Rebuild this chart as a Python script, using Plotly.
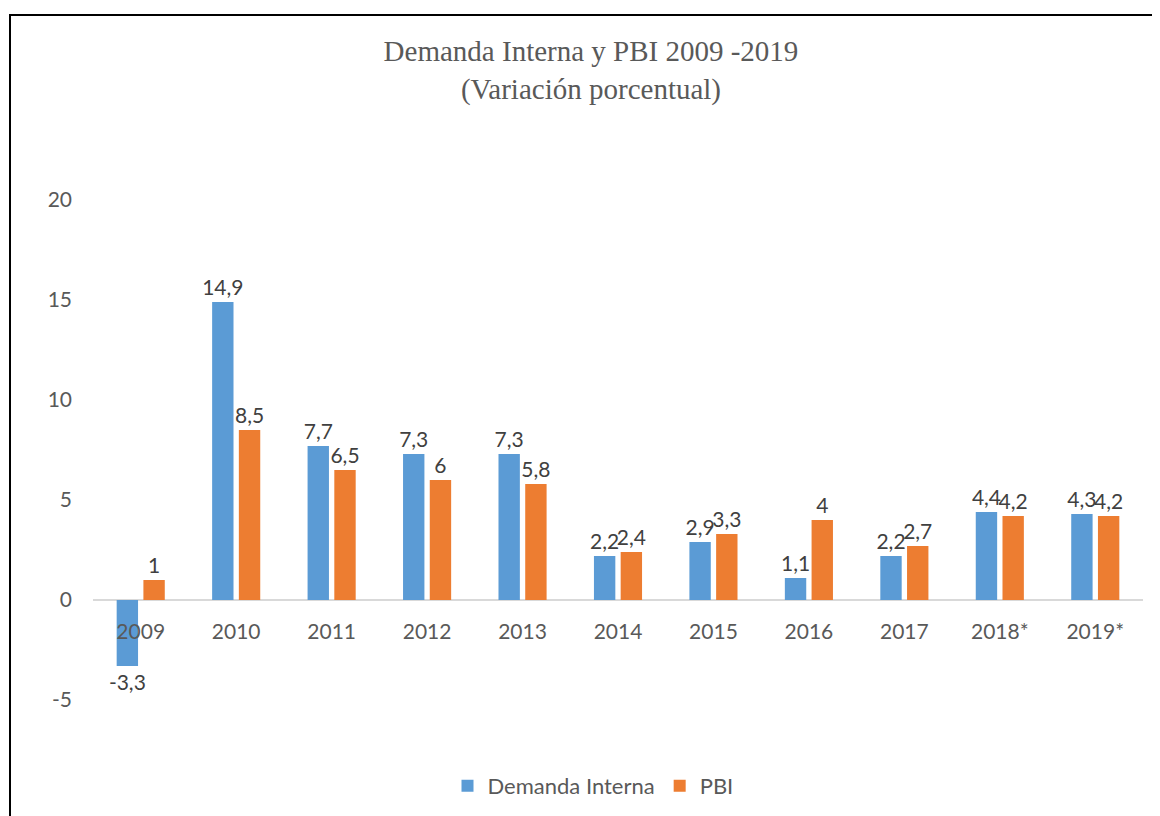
import plotly.graph_objects as go

years = ["2009", "2010", "2011", "2012", "2013", "2014", "2015", "2016", "2017", "2018*", "2019*"]
demanda_interna = [-3.3, 14.9, 7.7, 7.3, 7.3, 2.2, 2.9, 1.1, 2.2, 4.4, 4.3]
pbi = [1.0, 8.5, 6.5, 6.0, 5.8, 2.4, 3.3, 4.0, 2.7, 4.2, 4.2]
y_ticks = [-5, 0, 5, 10, 15, 20]
y_tick_text = ["-5", "0", "5", "10", "15", "20"]
y_range = [-5, 20]


def fmt(v):
    return ("%g" % v).replace(".", ",")


# page body has an 8px margin, so the figure is 8px smaller and offset
OFF = 8
W, H = 1160 - OFF, 816 - OFF
L, T = 93 - OFF, 200 - OFF
R = W - (1143 - OFF)
B = H - (700 - OFF)
pw, ph = W - L - R, H - T - B

label_font = dict(family="Lato, Open Sans, sans-serif", size=21, color="#404040")

fig = go.Figure()
fig.add_trace(go.Bar(
    x=years, y=demanda_interna, name="Demanda Interna",
    marker=dict(color="#5B9BD5", line=dict(width=0)),
    text=[fmt(v) for v in demanda_interna], textposition="outside",
    textfont=label_font, cliponaxis=False,
))
fig.add_trace(go.Bar(
    x=years, y=pbi, name="PBI",
    marker=dict(color="#ED7D31", line=dict(width=0)),
    text=[fmt(v) for v in pbi], textposition="outside",
    textfont=label_font, cliponaxis=False,
))

fig.update_layout(
    width=W, height=H,
    margin=dict(l=L, r=R, t=T, b=B, autoexpand=False),
    paper_bgcolor="white", plot_bgcolor="white",
    barmode="group", bargap=0.44, bargroupgap=0.2,
    uniformtext=dict(minsize=21, mode="show"),
    font=dict(family="Lato, Open Sans, sans-serif", color="#595959"),
    title=dict(
        text="Demanda Interna y PBI 2009 -2019<br>(Variación porcentual)",
        x=(591 - OFF) / W, xref="container", xanchor="center",
        y=1 - (61 - OFF) / H, yref="container", yanchor="middle",
        font=dict(family="Liberation Serif, Times New Roman, serif", size=29, color="#595959"),
    ),
    xaxis=dict(
        type="category", showgrid=False, showline=False, ticks="",
        tickfont=dict(size=21, color="#595959"),
        anchor="free", position=(0 - y_range[0]) / (y_range[1] - y_range[0]),
        ticklabelstandoff=17,
    ),
    yaxis=dict(
        range=y_range, tickvals=y_ticks, ticktext=y_tick_text,
        showgrid=False, showline=False,
        zeroline=True, zerolinecolor="#D9D9D9", zerolinewidth=2,
        tickfont=dict(size=21, color="#595959"), ticklabelstandoff=20,
    ),
    legend=dict(
        orientation="h", x=(593 - OFF) / W, xref="container", xanchor="center",
        y=(H - (786 - OFF)) / H, yref="container", yanchor="middle",
        font=dict(size=22, color="#595959"), itemwidth=30,
        traceorder="normal",
    ),
    showlegend=True,
)

# chart frame
fig.add_shape(
    type="rect", xref="paper", yref="paper",
    x0=(10 - OFF - L) / pw, x1=(W + 20 - L) / pw,
    y0=-(H + 20 - T - ph) / ph, y1=1 + (T - (15 - OFF)) / ph,
    line=dict(color="black", width=2), fillcolor="rgba(0,0,0,0)", layer="below",
)

fig.write_html("out.html")
